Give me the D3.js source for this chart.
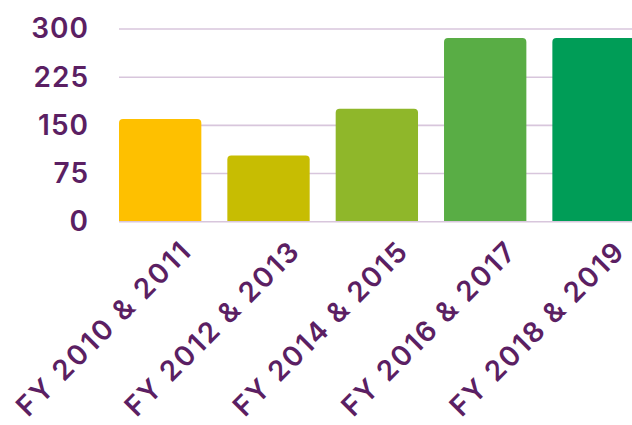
<!DOCTYPE html>
<html>
<head>
<meta charset="utf-8">
<script src="https://cdn.jsdelivr.net/npm/d3@7"></script>
<style>
  html, body { margin: 0; padding: 0; background: #fff; }
  svg { display: block; }
  text { font-family: Inter, sans-serif; font-weight: 600; fill: #5b1f63; }
</style>
</head>
<body>
<div class="chart"></div>
<script>
// data
var categories = ['FY 2010 & 2011', 'FY 2012 & 2013', 'FY 2014 & 2015', 'FY 2016 & 2017', 'FY 2018 & 2019'];
var values = [160, 103, 176, 286, 286];
var barColors = ['#fec000', '#c7bd02', '#8fb72a', '#59ad45', '#009d57'];
var yTicks = [0, 75, 150, 225, 300];

var w = 632,
    h = 425;

var svg = d3.select('.chart')
    .append('svg')
    .attr('width', w)
    .attr('height', h);

// scales
var x = d3.scaleBand()
    .domain(categories)
    .range([119, 634.7])
    .paddingInner(0.24)
    .paddingOuter(0);

var y = d3.scaleLinear()
    .domain([0, 300])
    .range([221.7, 29]);

// gridlines
svg.selectAll('line.grid')
    .data(yTicks)
    .enter()
    .append('line')
    .attr('class', 'grid')
    .attr('x1', 119)
    .attr('x2', w)
    .attr('y1', function(d) { return y(d); })
    .attr('y2', function(d) { return y(d); })
    .attr('stroke', '#d8c6dc')
    .attr('stroke-width', 1.6);

// bars with rounded top corners
var r = 4;
svg.selectAll('path.bar')
    .data(values)
    .enter()
    .append('path')
    .attr('class', 'bar')
    .attr('fill', function(d, i) { return barColors[i]; })
    .attr('d', function(d, i) {
        var x0 = x(categories[i]),
            x1 = x0 + x.bandwidth(),
            y0 = y(0) - 0.8,
            y1 = y(d);
        return 'M' + x0 + ',' + y0 +
            'V' + (y1 + r) +
            'Q' + x0 + ',' + y1 + ' ' + (x0 + r) + ',' + y1 +
            'H' + (x1 - r) +
            'Q' + x1 + ',' + y1 + ' ' + x1 + ',' + (y1 + r) +
            'V' + y0 + 'Z';
    });

// y axis labels
var yAxis = d3.axisLeft(y).tickValues(yTicks).tickSize(0).tickPadding(0);
var gy = svg.append('g')
    .attr('transform', 'translate(89,0)')
    .call(yAxis);
gy.select('.domain').remove();
gy.selectAll('text')
    .attr('font-size', 28)
    .style('letter-spacing', '1px')
    .attr('fill', '#5b1f63');

// x axis labels, rotated
var xAxis = d3.axisBottom(x).tickSize(0).tickPadding(0);
var gx = svg.append('g')
    .call(xAxis);
gx.select('.domain').remove();
gx.selectAll('.tick')
    .attr('transform', function(d) {
        return 'translate(' + (x(d) + x.bandwidth() / 2 + 32) + ',254)';
    });
gx.selectAll('text')
    .attr('y', 0)
    .attr('dy', 0)
    .attr('font-size', 28)
    .attr('textLength', 232)
    .attr('lengthAdjust', 'spacing')
    .attr('fill', '#5b1f63')
    .attr('text-anchor', 'end')
    .attr('transform', 'rotate(-45)');
</script>
</body>
</html>
